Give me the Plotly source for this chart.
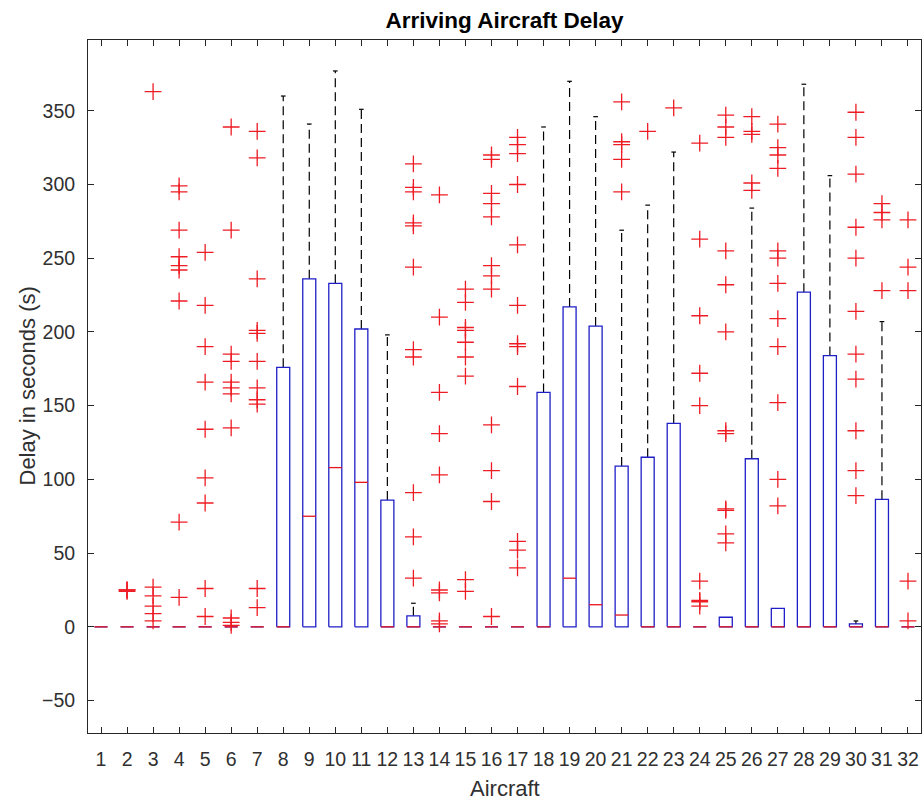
import plotly.graph_objects as go

aircraft = list(range(1, 33))
q1 = [0] * 32
median = [0, 0, 0, 0, 0, 0, 0, 0, 75, 108, 98, 0, 0, 0, 0, 0,
          0, 0, 33, 15, 8, 0, 0, 0, 0, 0, 0, 0, 0, 0, 0, 0]
q3 = [0, 0, 0, 0, 0, 0, 0, 176, 236, 233, 202, 86, 7.5, 0, 0, 0,
      0, 159, 217, 204, 109, 115, 138, 0, 6.5, 114, 12.5, 227, 184, 2, 86.5, 0]
whisker_low = [0] * 32
whisker_high = [0, 0, 0, 0, 0, 0, 0, 360, 341, 377, 351, 198, 16, 0, 0, 0,
                0, 339, 370, 346, 269, 286, 322, 0, 6.5, 284, 12.5, 368, 306, 4, 207, 0]
outliers = {
    2: [24, 25, 25],
    3: [363, 27, 21, 14, 9, 4],
    4: [299, 295, 269, 251, 245, 242, 221, 71, 20],
    5: [254, 218, 190, 166, 134, 101, 84, 26, 7],
    6: [339, 269, 185, 180, 166, 162, 158, 135, 6, 3, 1],
    7: [336, 318, 236, 201, 199, 180, 162, 154, 151, 26, 13],
    13: [314, 298, 295, 274, 272, 244, 188, 183, 91, 61, 33],
    14: [293, 210, 159, 131, 103, 25, 23, 4, 2],
    15: [229, 220, 203, 201, 193, 183, 170, 32, 24],
    16: [320, 317, 294, 287, 278, 245, 238, 229, 137, 106, 85, 7],
    17: [332, 327, 321, 300, 259, 218, 192, 190, 163, 58, 52, 40],
    21: [356, 329, 327, 317, 295],
    22: [336],
    23: [352],
    24: [328, 263, 211, 172, 150, 31, 18, 17, 14],
    25: [347, 339, 332, 255, 232, 200, 133, 131, 80, 79, 63, 57],
    26: [346, 336, 334, 301, 296],
    27: [341, 325, 320, 311, 255, 250, 233, 209, 190, 152, 100, 82],
    30: [349, 332, 307, 271, 250, 214, 185, 168, 133, 106, 89],
    31: [287, 281, 276, 228],
    32: [276, 244, 228, 31, 4],
}
y_ticks = [-50, 0, 50, 100, 150, 200, 250, 300, 350]
title_text = "Arriving Aircraft Delay"
x_label = "Aircraft"
y_label = "Delay in seconds (s)"

HW = 0.25   # half box width
CW = 0.09   # half cap width

bx, by, mx, my, wx, wy, cx, cy = [], [], [], [], [], [], [], []
for i, a in enumerate(aircraft):
    bx += [a - HW, a + HW, a + HW, a - HW, a - HW, None]
    by += [q1[i], q1[i], q3[i], q3[i], q1[i], None]
    mx += [a - HW, a + HW, None]
    my += [median[i], median[i], None]
    if whisker_high[i] > q3[i]:
        wx += [a, a, None]
        wy += [q3[i], whisker_high[i], None]
        cx += [a - CW, a + CW, None]
        cy += [whisker_high[i], whisker_high[i], None]
    if whisker_low[i] < q1[i]:
        wx += [a, a, None]
        wy += [q1[i], whisker_low[i], None]
        cx += [a - CW, a + CW, None]
        cy += [whisker_low[i], whisker_low[i], None]

ox, oy = [], []
for a, vals in outliers.items():
    ox += [a] * len(vals)
    oy += vals

fig = go.Figure()
fig.add_trace(go.Scatter(x=wx, y=wy, mode="lines", line=dict(color="black", width=1.2, dash="9px,5px"),
                         hoverinfo="skip"))
fig.add_trace(go.Scatter(x=cx, y=cy, mode="lines", line=dict(color="black", width=1.2), hoverinfo="skip"))
fig.add_trace(go.Scatter(x=bx, y=by, mode="lines", line=dict(color="#1f1fc8", width=1.3), hoverinfo="skip"))
fig.add_trace(go.Scatter(x=mx, y=my, mode="lines", line=dict(color="#e8141e", width=1.3), hoverinfo="skip"))
fig.add_trace(go.Scatter(x=ox, y=oy, mode="markers",
                         marker=dict(symbol="cross-thin", size=12, line=dict(color="#ee1c24", width=1.3)),
                         hoverinfo="skip"))

FAM = "Liberation Sans, Arial, sans-serif"
tick_font = dict(family=FAM, size=19.5, color="#303030")
fig.update_layout(
    width=924, height=800,
    margin=dict(l=88, r=3, t=40, b=67),
    paper_bgcolor="white", plot_bgcolor="white",
    showlegend=False,
    title=dict(text="<b>" + title_text + "</b>", x=0.5, xref="paper", xanchor="center",
               y=1 - 20 / 800, yanchor="middle",
               font=dict(family=FAM, size=22.5, color="black")),
    font=dict(family=FAM, color="#303030"),
    annotations=[
        dict(text=x_label, xref="paper", yref="paper", x=0.5, y=0, xanchor="center", yanchor="middle",
             yshift=-55, showarrow=False, font=dict(family=FAM, size=22, color="#303030")),
        dict(text=y_label, xref="paper", yref="paper", x=0, y=0.5, xanchor="center", yanchor="middle",
             xshift=-61, textangle=-90, showarrow=False, font=dict(family=FAM, size=22, color="#303030")),
    ],
)
fig.update_xaxes(range=[0.5, 32.5], tickmode="array", tickvals=aircraft, ticktext=[str(a) for a in aircraft],
                 ticks="inside", ticklen=6, tickcolor="#262626", showline=True, linecolor="#262626",
                 linewidth=1, mirror="allticks", showgrid=False, zeroline=False,
                 tickfont=tick_font, ticklabelstandoff=9)
fig.update_yaxes(range=[-72, 398], tickmode="array", tickvals=y_ticks,
                 ticks="inside", ticklen=6, tickcolor="#262626", showline=True, linecolor="#262626",
                 linewidth=1, mirror="allticks", showgrid=False, zeroline=False,
                 tickfont=tick_font, ticklabelstandoff=8)

fig.write_html("out.html", config={"displayModeBar": False},
               post_script="document.body.style.margin='0';document.body.style.overflow='hidden';")
